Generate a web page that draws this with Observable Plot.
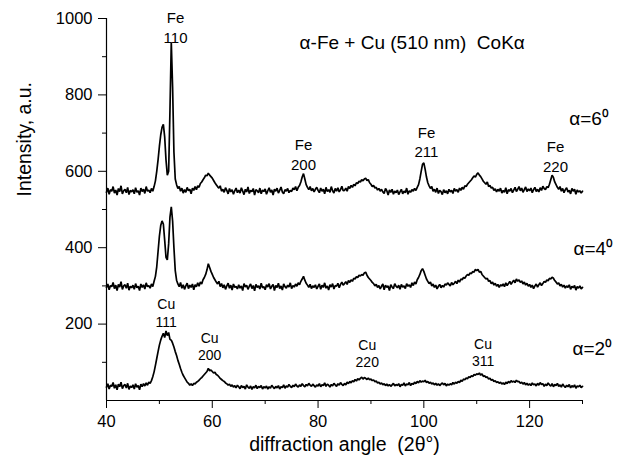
<!DOCTYPE html>
<html><head><meta charset="utf-8">
<script src="https://cdn.jsdelivr.net/npm/d3@7"></script>
<script src="https://cdn.jsdelivr.net/npm/@observablehq/plot@0.6"></script>
<style>body{margin:0;background:#fff}</style>
</head><body><div id="chart"></div>
<script>
// diffraction angle grid: 40..130 in 0.25° steps (361 samples)
const angleStart = 40, angleStep = 0.25;

// α = 6°
const a6 = [
545,556,540,552,548,560,543,551,538,555,547,562,541,549,553,544,558,539,550,546,
552,541,557,545,549,538,556,547,553,542,560,548,551,544,555,548,560,575,600,630,
665,695,715,723,690,630,590,600,760,938,820,650,580,565,555,560,548,556,543,552,
545,558,549,553,541,556,550,560,552,562,558,568,572,578,583,590,588,595,590,586,
582,576,570,565,560,556,562,548,553,545,557,550,541,555,546,552,540,549,556,544,
551,543,557,548,539,553,546,559,542,550,547,555,538,552,549,544,556,541,551,547,
554,540,549,557,545,551,538,553,548,556,543,550,559,546,541,552,548,555,544,550,
547,556,552,560,549,558,563,572,585,594,580,565,558,552,560,549,555,546,553,558,
550,544,556,548,553,541,558,547,552,545,560,549,543,555,548,557,546,552,561,549,
550,556,548,560,555,563,558,566,562,570,568,574,572,578,575,580,582,576,578,570,
566,560,563,556,558,551,555,548,553,546,542,555,549,538,551,545,553,540,548,544,
551,539,546,553,541,548,544,556,540,549,545,552,548,555,550,558,565,580,600,618,
622,605,585,570,562,555,560,548,553,545,556,542,550,547,539,552,544,549,541,553,
546,550,542,555,548,552,545,556,550,558,553,562,560,566,570,574,578,583,588,585,
592,596,590,586,580,574,570,566,572,560,563,556,558,550,554,546,553,548,556,543,
550,545,557,541,552,548,555,544,551,558,547,553,560,549,556,545,552,559,547,554,
549,556,544,552,558,547,553,546,557,550,561,555,552,560,557,566,578,590,584,572,
565,558,553,560,548,555,544,552,557,546,550,541,555,548,553,540,551,546,549,543,
548];

// α = 4°
const a4 = [
296,305,290,301,298,309,293,302,288,304,297,311,291,300,303,294,307,289,299,295,
302,291,306,295,299,288,305,296,303,292,308,298,301,294,305,298,312,325,350,390,
430,458,470,462,420,375,368,410,480,507,470,400,340,315,305,298,309,294,303,291,
300,307,293,302,296,305,290,303,298,308,299,310,305,316,322,330,342,358,348,338,
330,322,316,310,305,312,298,306,295,303,291,300,307,294,302,289,305,296,299,292,
303,294,300,288,306,297,302,291,299,305,293,301,287,304,296,300,292,307,295,298,
290,303,297,306,292,299,304,288,301,296,307,293,300,289,305,298,294,302,297,308,
293,301,297,305,299,308,303,312,318,325,315,307,302,296,304,293,300,296,303,292,
299,305,291,302,296,308,294,300,289,303,297,306,292,301,299,307,295,304,310,302,
306,311,304,314,309,316,312,320,318,324,322,328,326,330,328,334,336,328,322,318,
314,309,306,300,304,296,301,292,299,305,290,302,296,300,288,303,297,293,306,299,
295,302,291,304,297,300,293,306,299,303,296,308,301,310,305,316,322,330,340,345,
338,328,318,312,306,310,300,305,296,302,292,299,304,295,301,297,305,302,308,304,
300,309,303,307,312,306,315,310,318,316,322,320,326,330,328,334,332,338,336,343,
340,343,336,338,330,326,322,318,320,312,314,306,310,302,307,299,304,296,303,300,
305,298,308,301,306,312,304,310,315,308,318,312,316,309,313,305,310,302,307,299,
304,296,302,293,300,305,297,303,308,301,306,312,309,316,313,320,318,323,320,314,
310,305,308,300,304,297,302,294,300,296,303,291,299,295,301,289,298,294,300,292,
296];

// α = 2°
const a2 = [
35,44,30,40,37,47,32,41,28,43,36,48,31,39,42,33,45,29,38,34,
41,30,44,35,39,28,43,36,44,38,46,40,48,45,52,62,75,92,110,128,
145,158,168,176,165,182,170,178,160,158,150,140,128,118,105,95,84,74,66,60,
54,48,45,40,44,39,45,43,48,50,53,57,60,64,68,72,76,84,78,80,
76,72,74,68,66,62,58,55,52,50,46,44,40,43,37,41,35,39,33,40,
36,31,39,34,37,30,41,35,32,38,29,36,33,40,31,37,34,39,30,36,
33,38,30,36,32,40,35,31,37,33,39,30,36,34,41,32,38,35,42,37,
34,40,36,43,38,35,41,37,44,39,36,42,38,45,40,37,43,39,35,41,
38,44,36,41,39,46,37,43,40,35,42,38,45,41,37,44,40,47,42,39,
45,41,48,44,50,46,52,49,55,51,57,54,58,61,56,60,58,55,59,54,
56,52,54,49,51,46,48,43,46,41,44,39,43,38,42,37,41,45,38,42,
39,44,36,42,40,46,38,43,41,47,39,45,42,48,44,50,46,52,48,51,
49,53,47,50,45,48,43,46,41,45,40,44,39,43,46,41,45,38,43,40,
44,41,47,43,48,45,50,47,53,50,56,54,59,57,62,60,65,63,68,66,
70,68,72,66,70,63,65,60,62,56,58,53,55,50,52,47,49,45,48,43,
46,42,48,44,50,46,52,48,51,47,53,49,50,45,48,43,47,41,45,40,
44,39,46,41,43,38,45,40,47,42,44,37,43,39,46,41,38,44,36,42,
39,45,37,41,35,43,38,34,40,36,42,33,39,35,41,32,38,36,40,34,
37];

const scanNames = ["6", "4", "2"];
const scanValues = [a6, a4, a2];

const xTicks = [40, 60, 80, 100, 120];
const xMinor = [50, 70, 90, 110, 130];
const yTicks = [200, 400, 600, 800, 1000];
const yMinor = [100, 300, 500, 700, 900];

const peakText = ["Fe\n110", "Fe\n200", "Fe\n211", "Fe\n220", "Cu\n111", "Cu\n200", "Cu\n220", "Cu\n311"];
const peakX    = [53.05, 77.25, 100.5, 124.9, 51.3, 59.5, 89.3, 111.2];
const peakY    = [978, 647, 679, 640, 231, 143, 124, 127];
const peakKind = ["Fe", "Fe", "Fe", "Fe", "Cu", "Cu", "Cu", "Cu"];

const scanLabelText = ["α=6⁰", "α=4⁰", "α=2⁰"];
const scanLabelX = [127.5, 128.3, 128.1];
const scanLabelY = [736, 398, 136];

const titleText = "α-Fe + Cu (510 nm)\u00a0 CoKα";
const titleX = 97.8, titleY = 936;
const xTitle = "diffraction angle\u00a0 (2θ°)";
const yTitle = "Intensity, a.u.";

// build table
const rows = [];
scanValues.forEach((vals, s) => {
  vals.forEach((v, i) => rows.push({angle: angleStart + i * angleStep, intensity: v, scan: scanNames[s]}));
});
const peaks = peakText.map((t, i) => ({t, x: peakX[i], y: peakY[i], k: peakKind[i]}));
const scanLabels = scanLabelText.map((t, i) => ({t, x: scanLabelX[i], y: scanLabelY[i]}));

const font = "'Liberation Sans', Arial, Helvetica, sans-serif";

const chart = Plot.plot({
  width: 625, height: 465,
  marginLeft: 106, marginRight: 43, marginTop: 18, marginBottom: 65,
  x: {domain: [40, 130]},
  y: {domain: [0, 1000]},
  style: {fontFamily: font, background: "white", color: "black", overflow: "visible"},
  marks: [
    Plot.axisX(xTicks, {tickSize: 8, tickPadding: 7, fontSize: 16.5, tickFormat: d => String(d), label: null}),
    Plot.axisX(xMinor, {tickSize: 4, tickFormat: () => "", label: null}),
    Plot.axisY(yTicks, {tickSize: 8, tickPadding: 6, fontSize: 16.5, tickFormat: d => String(d), label: null}),
    Plot.axisY(yMinor, {tickSize: 4, tickFormat: () => "", label: null}),
    Plot.ruleX([40], {stroke: "black", strokeWidth: 1.2}),
    Plot.ruleY([0], {stroke: "black", strokeWidth: 1.2}),
    Plot.line(rows, {x: "angle", y: "intensity", z: "scan", stroke: "black", strokeWidth: 1.7, strokeLinejoin: "miter"}),
    Plot.text(peaks.filter(d => d.k === "Fe"), {x: "x", y: "y", text: "t", fontSize: 15, lineHeight: 1.33}),
    Plot.text(peaks.filter(d => d.k === "Cu"), {x: "x", y: "y", text: "t", fontSize: 14, lineHeight: 1.25}),
    Plot.text(scanLabels, {x: "x", y: "y", text: "t", fontSize: 19, textAnchor: "start"}),
    Plot.text([{t: titleText, x: titleX, y: titleY}], {x: "x", y: "y", text: "t", fontSize: 19}),
    Plot.text([xTitle], {frameAnchor: "bottom", dy: 50, fontSize: 19.5}),
    Plot.text([yTitle], {frameAnchor: "left", dx: -82, dy: -13, rotate: -90, fontSize: 19.5})
  ]
});
document.getElementById("chart").appendChild(chart);
</script>
</body></html>
